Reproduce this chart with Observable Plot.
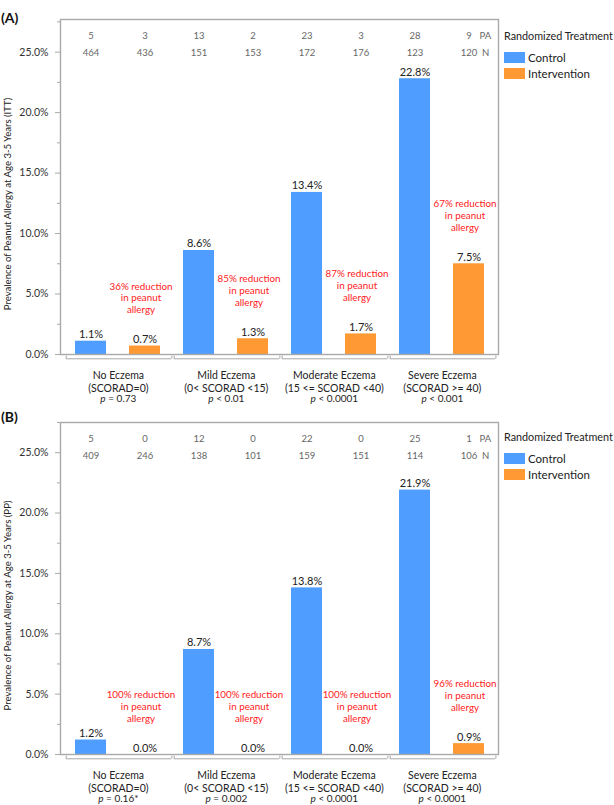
<!DOCTYPE html>
<html><head><meta charset="utf-8">
<script src="https://cdn.jsdelivr.net/npm/d3@7"></script>
<script src="https://cdn.jsdelivr.net/npm/@observablehq/plot@0.6"></script>
<style>
body{margin:0;background:#fff;font-family:Lato,sans-serif;}
.panel{position:relative;width:614px;}
.panel svg{display:block;}
.ptitle{position:absolute;left:1px;font-weight:bold;font-size:14px;line-height:14px;color:#111;}
.legend{position:absolute;left:504px;font-size:11.5px;color:#222;white-space:nowrap;}
.legend .ltitle{line-height:14px;height:14px;font-size:10.8px;}
.legend .item{display:flex;align-items:center;height:11px;margin-top:5px;line-height:11px;}
.legend .item.first{margin-top:9px;}
.legend .sw{display:inline-block;width:21px;height:11px;margin-right:3px;}
</style></head><body>
<div id="chart"></div>
<script>
// ---- shared categories / labels ----
const groups = ["No Eczema\n(SCORAD=0)", "Mild Eczema\n(0< SCORAD <15)", "Moderate Eczema\n(15 <= SCORAD <40)", "Severe Eczema\n(SCORAD >= 40)"];
const treatments = ["Control", "Intervention"];
const treatmentColors = ["#4f9dff", "#ff9933"];
const legendTitle = "Randomized Treatment";
const yTicks = [0, 5, 10, 15, 20, 25];
const yMinorTicks = [2.5, 7.5, 12.5, 17.5, 22.5, 27.5];
const countRowLabels = ["PA", "N"];

// ---- Panel A (ITT) ----
const ittTitle = "(A)";
const ittYLabel = "Prevalence of Peanut Allergy at Age 3-5 Years (ITT)";
const ittControl = [1.1, 8.6, 13.4, 22.8];
const ittIntervention = [0.7, 1.3, 1.7, 7.5];
const ittPAControl = [5, 13, 23, 28];
const ittPAIntervention = [3, 2, 3, 9];
const ittNControl = [464, 151, 172, 123];
const ittNIntervention = [436, 153, 176, 120];
const ittReduction = ["36%", "85%", "87%", "67%"];
const ittP = ["p = 0.73", "p < 0.01", "p < 0.0001", "p < 0.001"];

// ---- Panel B (PP) ----
const ppTitle = "(B)";
const ppYLabel = "Prevalence of Peanut Allergy at Age 3-5 Years (PP)";
const ppControl = [1.2, 8.7, 13.8, 21.9];
const ppIntervention = [0.0, 0.0, 0.0, 0.9];
const ppPAControl = [5, 12, 22, 25];
const ppPAIntervention = [0, 0, 0, 1];
const ppNControl = [409, 138, 159, 114];
const ppNIntervention = [246, 101, 151, 106];
const ppReduction = ["100%", "100%", "100%", "96%"];
const ppP = ["p = 0.16*", "p = 0.002", "p < 0.0001", "p < 0.0001"];

function makePanel(cfg) {
  const rows = [];
  groups.forEach((g, i) => {
    rows.push({key: i + "|C", gi: i, group: g, treatment: treatments[0], value: cfg.control[i], pa: cfg.paC[i], n: cfg.nC[i], p: cfg.p[i], red: cfg.red[i], partner: i + "|I"});
    rows.push({key: i + "|I", gi: i, group: g, treatment: treatments[1], value: cfg.interv[i], pa: cfg.paI[i], n: cfg.nI[i], p: cfg.p[i], red: cfg.red[i]});
  });
  const keys = rows.map(d => d.key);
  const ctrl = rows.filter(d => d.treatment === treatments[0]);
  const intv = rows.filter(d => d.treatment === treatments[1]);
  const last = [rows[rows.length - 1]];
  const gray = "#a9a9a9";
  const halfStep = 27.35;

  const svg = Plot.plot({
    width: 614, height: cfg.height,
    marginTop: cfg.mt, marginBottom: cfg.mb, marginLeft: 60, marginRight: 116,
    style: {fontFamily: "Lato, sans-serif", fontSize: "10px", background: "transparent", overflow: "visible"},
    x: {type: "band", domain: keys, paddingInner: 0.433, paddingOuter: 0.22, axis: null},
    y: {domain: [0, cfg.ymax], axis: null},
    color: {domain: treatments, range: treatmentColors},
    marks: [
      Plot.barY(rows, {x: "key", y: "value", fill: "treatment"}),
      Plot.frame({stroke: gray, strokeWidth: 1.4}),
      Plot.axisY({ticks: yMinorTicks, tickSize: 3, tickFormat: () => "", stroke: gray, label: null}),
      Plot.axisY({ticks: yTicks, tickSize: 5, tickPadding: 7, tickFormat: d => d.toFixed(1) + "%", stroke: gray, fill: "#333", fontSize: 10.5, label: null}),
      Plot.text([cfg.ylabel], {text: d => d, frameAnchor: "left", textAnchor: "middle", rotate: -90, dx: -53, dy: 17, fontSize: 9.6, fill: "#222"}),
      // value labels
      Plot.text(rows, {x: "key", y: "value", text: d => d.value.toFixed(1) + "%", lineAnchor: "bottom", dy: -3, fontSize: 11, fill: "#222"}),
      // counts
      Plot.text(rows, {x: "key", frameAnchor: "top", text: d => String(d.pa), dy: 12.7, fontSize: 9.5, fill: "#666"}),
      Plot.text(rows, {x: "key", frameAnchor: "top", text: d => String(d.n), dy: 30, fontSize: 9.5, fill: "#666"}),
      Plot.text(last, {x: "key", frameAnchor: "top", text: () => countRowLabels[0], textAnchor: "start", dx: 10.5, dy: 12.7, fontSize: 9.5, fill: "#666"}),
      Plot.text(last, {x: "key", frameAnchor: "top", text: () => countRowLabels[1], textAnchor: "start", dx: 13, dy: 30, fontSize: 9.5, fill: "#666"}),
      // reduction annotations
      Plot.text(intv, {x: "key", y: "value", text: d => d.red + " reduction\nin peanut\nallergy", lineAnchor: "bottom", lineHeight: 1.2, dx: -4, dy: -33, fontSize: 9.8, fill: "#ff1a1a"}),
      // group brackets
      Plot.ruleY(ctrl, {x1: "key", x2: "partner", y: () => 0, dy: 4.3, insetLeft: -9.3, insetRight: -11.4, stroke: gray, strokeWidth: 1}),
      Plot.ruleX(ctrl, {x: "key", y1: () => 0, y2: () => 0, dx: -24.8, insetTop: 1.5, insetBottom: -4.5, stroke: gray, strokeWidth: 1}),
      Plot.ruleX(intv, {x: "key", y1: () => 0, y2: () => 0, dx: 26.9, insetTop: 1.5, insetBottom: -4.5, stroke: gray, strokeWidth: 1}),
      // group labels + p values
      Plot.text(ctrl, {x: "key", frameAnchor: "bottom", text: "group", dx: halfStep, dy: 16, lineAnchor: "top", lineHeight: 1.18, fontSize: 10.5, fill: "#222"}),
      Plot.text(ctrl, {x: "key", frameAnchor: "bottom", text: "p", dx: halfStep, dy: 40.5, lineAnchor: "top", fontSize: 10, fill: "#222"})
    ]
  });

  // italic "p" in p-values
  d3.select(svg).selectAll("text").each(function () {
    const t = this.textContent;
    if (/^p [=<]/.test(t) && this.childNodes.length === 1) {
      const rest = t.slice(1);
      this.textContent = "";
      d3.select(this).append("tspan").attr("font-style", "italic").text("p");
      d3.select(this).append("tspan").text(rest);
    }
  });

  const panel = document.createElement("div");
  panel.className = "panel";
  panel.style.height = cfg.height + "px";
  panel.appendChild(svg);

  const title = document.createElement("div");
  title.className = "ptitle";
  title.style.top = cfg.titleTop + "px";
  title.textContent = cfg.title;
  panel.appendChild(title);

  const legend = document.createElement("div");
  legend.className = "legend";
  legend.style.top = cfg.legendTop + "px";
  const lt = document.createElement("div");
  lt.className = "ltitle";
  lt.textContent = legendTitle;
  legend.appendChild(lt);
  treatments.forEach((t, i) => {
    const it = document.createElement("div");
    it.className = "item" + (i === 0 ? " first" : "");
    const sw = document.createElement("span");
    sw.className = "sw";
    sw.style.background = treatmentColors[i];
    it.appendChild(sw);
    it.appendChild(document.createTextNode(t));
    legend.appendChild(it);
  });
  panel.appendChild(legend);
  return panel;
}

const root = document.getElementById("chart");
root.appendChild(makePanel({
  title: ittTitle, ylabel: ittYLabel, control: ittControl, interv: ittIntervention,
  paC: ittPAControl, paI: ittPAIntervention, nC: ittNControl, nI: ittNIntervention,
  red: ittReduction, p: ittP, height: 402, mt: 19, mb: 48, ymax: 27.7, titleTop: 11, legendTop: 29
}));
root.appendChild(makePanel({
  title: ppTitle, ylabel: ppYLabel, control: ppControl, interv: ppIntervention,
  paC: ppPAControl, paI: ppPAIntervention, nC: ppNControl, nI: ppNIntervention,
  red: ppReduction, p: ppP, height: 403, mt: 20, mb: 51, ymax: 27.5, titleTop: 8, legendTop: 28
}));
</script>
</body></html>
